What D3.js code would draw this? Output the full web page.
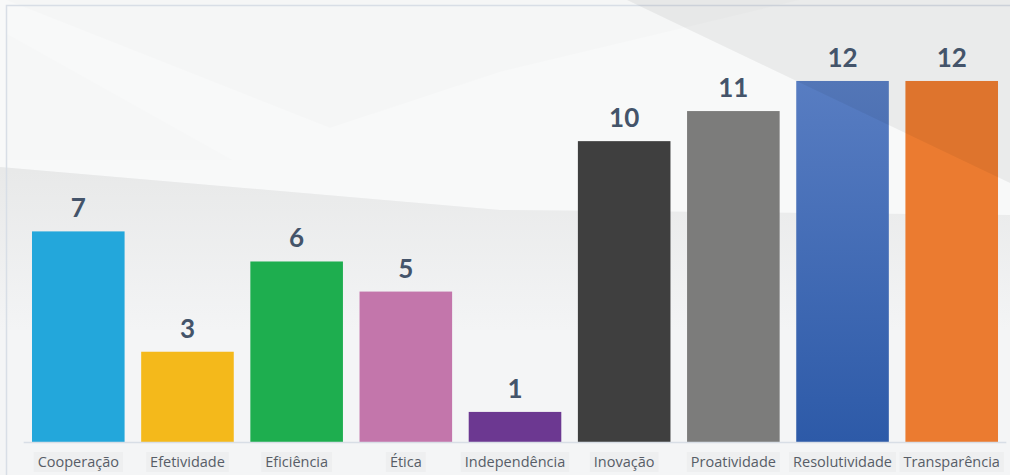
<!DOCTYPE html>
<html>
<head>
<meta charset="utf-8">
<script src="https://cdn.jsdelivr.net/npm/d3@7"></script>
<style>
  html, body { margin: 0; padding: 0; background: #f5f6f7; }
  svg { display: block; }
</style>
</head>
<body>
<svg id="chart" width="1010" height="475"></svg>
<script>
var categories = ["Cooperação", "Efetividade", "Eficiência", "Ética", "Independência", "Inovação", "Proatividade", "Resolutividade", "Transparência"];
var values = [7, 3, 6, 5, 1, 10, 11, 12, 12];
var barColors = ["#23a7db", "#f4b91b", "#1eae4f", "#c376ab", "#6c3891", "#3f3f3f", "#7c7c7b", "url(#blueGrad)", "#eb7b30"];

//////////////////////////////////////////////////////////////////////////////

var svgSize = { width: 1010, height: 475, margin: { left: 23.7, right: 3.7, top: 20.8, bottom: 33 } };
var svg = d3.select("#chart");

var xScale = d3.scaleBand()
  .domain(categories)
  .range([svgSize.margin.left, svgSize.width - svgSize.margin.right])
  .paddingInner(0.152)
  .paddingOuter(0.076);

var yScale = d3.scaleLinear()
  .domain([0, 14])
  .range([svgSize.height - svgSize.margin.bottom, svgSize.margin.top]);

var defs = svg.append("defs");

var blue = defs.append("linearGradient")
  .attr("id", "blueGrad")
  .attr("x1", 0).attr("y1", 0).attr("x2", 0).attr("y2", 1);
blue.append("stop").attr("offset", "0%").attr("stop-color", "#587dc2");
blue.append("stop").attr("offset", "100%").attr("stop-color", "#2d5aa8");

var band = defs.append("linearGradient")
  .attr("id", "bandGrad")
  .attr("gradientUnits", "userSpaceOnUse")
  .attr("x1", 0).attr("y1", 170).attr("x2", 0).attr("y2", 330);
band.append("stop").attr("offset", "0%").attr("stop-color", "#e8e9e9");
band.append("stop").attr("offset", "100%").attr("stop-color", "#f3f4f5");

// background swooshes
svg.append("rect")
  .attr("x", 0).attr("y", 0)
  .attr("width", svgSize.width).attr("height", svgSize.height)
  .attr("fill", "#f4f5f6");

svg.append("path")
  .attr("d", "M0,0 L1010,0 L1010,215 L500,210 L0,167 Z")
  .attr("fill", "#f8f9f9");

svg.append("path")
  .attr("d", "M0,167 L500,210 L1010,215 L1010,330 L0,330 Z")
  .attr("fill", "url(#bandGrad)");

svg.append("path")
  .attr("d", "M6,0 L800,0 L500,72 L330,128 Z")
  .attr("fill", "#000")
  .attr("opacity", 0.012);

svg.append("path")
  .attr("d", "M6,33 L233,160 L6,160 Z")
  .attr("fill", "#000")
  .attr("opacity", 0.008);

// frame
svg.append("path")
  .attr("d", "M6.5,475 L6.5,5.5 L1010,5.5")
  .attr("fill", "none")
  .attr("stroke", "#d8dee6")
  .attr("stroke-width", 1.5);

// label boxes
var labelBoxes = svg.append("g");

// bars
svg.selectAll("rect.bar")
  .data(values)
  .enter()
  .append("rect")
  .attr("class", "bar")
  .attr("x", function(d, i) {
    return xScale(categories[i]);
  })
  .attr("y", function(d) {
    return yScale(d);
  })
  .attr("width", xScale.bandwidth())
  .attr("height", function(d) {
    return yScale(0) - yScale(d);
  })
  .attr("fill", function(d, i) {
    return barColors[i];
  });

// top right swoosh, sits over the bars
svg.append("path")
  .attr("d", "M627,0 L1010,0 L1010,183 Z")
  .attr("fill", "#000")
  .attr("opacity", 0.055);

// baseline
svg.append("line")
  .attr("x1", svgSize.margin.left)
  .attr("x2", svgSize.width - svgSize.margin.right)
  .attr("y1", yScale(0) + 0.5)
  .attr("y2", yScale(0) + 0.5)
  .attr("stroke", "#d8dee6")
  .attr("stroke-width", 1.5);

// value labels
svg.selectAll("text.value")
  .data(values)
  .enter()
  .append("text")
  .attr("class", "value")
  .attr("x", function(d, i) {
    return xScale(categories[i]) + xScale.bandwidth() / 2;
  })
  .attr("y", function(d) {
    return yScale(d) - 14;
  })
  .style("text-anchor", "middle")
  .style("font-family", "Lato, 'Open Sans', sans-serif")
  .style("font-weight", "bold")
  .style("font-size", "26px")
  .attr("fill", "#44546a")
  .text(function(d) {
    return d;
  });

// category labels
var catLabels = svg.selectAll("text.cat")
  .data(categories)
  .enter()
  .append("text")
  .attr("class", "cat")
  .attr("x", function(d) {
    return xScale(d) + xScale.bandwidth() / 2;
  })
  .attr("y", 467)
  .style("text-anchor", "middle")
  .style("font-family", "'Open Sans', sans-serif")
  .style("font-size", "14.5px")
  .attr("fill", "#575d67")
  .text(function(d) {
    return d;
  });

catLabels.each(function() {
  var bb = this.getBBox();
  labelBoxes.append("rect")
    .attr("x", bb.x - 4)
    .attr("y", 452)
    .attr("width", bb.width + 8)
    .attr("height", 20)
    .attr("fill", "#eeeff0");
});
</script>
</body>
</html>
